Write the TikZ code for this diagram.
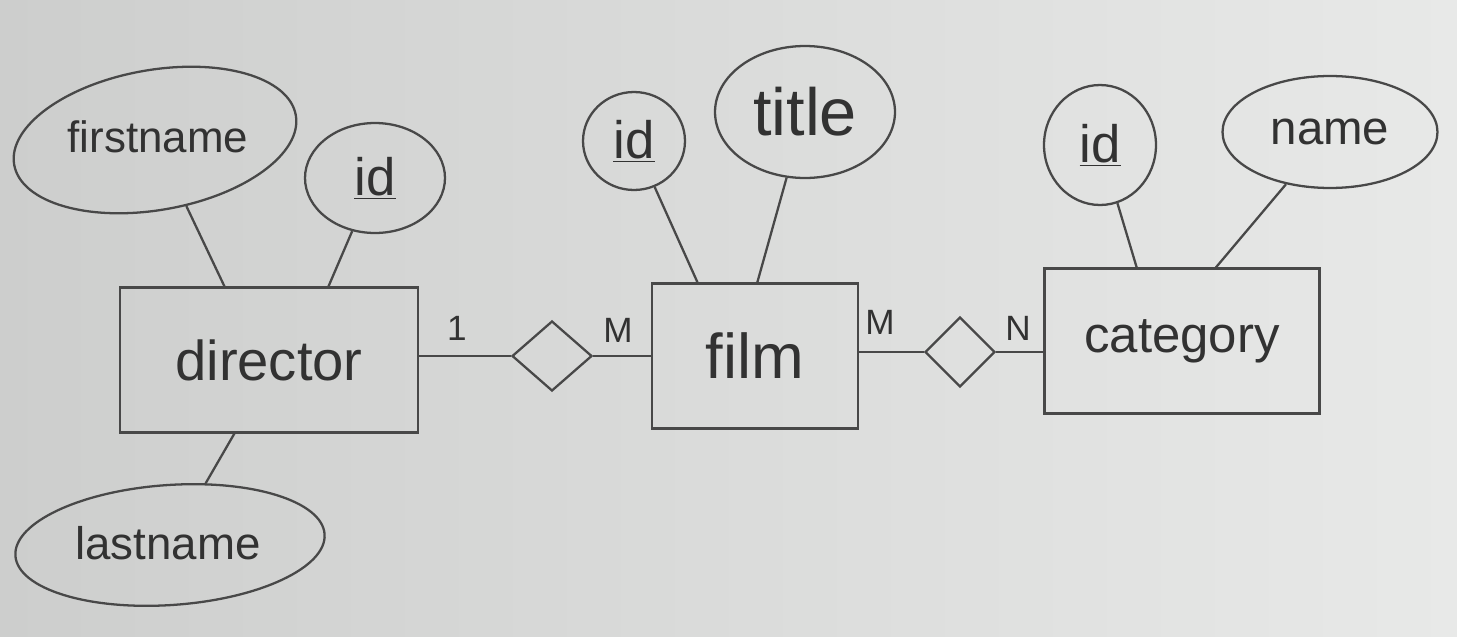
\documentclass[tikz,border=0pt]{standalone}
\usepackage{fontspec}
\setmainfont{Liberation Sans}
\usetikzlibrary{shapes.geometric}
\definecolor{pencil}{RGB}{72,72,72}
\definecolor{ink}{RGB}{50,50,50}
\definecolor{paperL}{RGB}{205,206,205}
\definecolor{paperR}{RGB}{232,233,232}
\newcommand{\fs}[1]{\fontsize{#1}{#1}\selectfont}
\tikzset{
  entity/.style={draw=pencil, line width=1.3pt, rectangle, minimum height=2.9cm, inner sep=0pt, text=ink},
  attr/.style={draw=pencil, line width=1.3pt, ellipse, inner sep=0pt, text=ink},
  lbl/.style={text=ink, inner sep=0pt},
  rel/.style={draw=pencil, line width=1.3pt, diamond, minimum width=1.6cm, minimum height=1.4cm, inner sep=0pt},
  link/.style={draw=pencil, line width=1.3pt},
  card/.style={text=ink, inner sep=0pt, font=\fs{20}}
}
\begin{document}
\begin{tikzpicture}[x=0.02cm,y=-0.02cm]
\shade[left color=paperL, right color=paperR] (0,0) rectangle (1457,636);
\useasboundingbox (0,0) rectangle (1457,636);

% entities
\node[entity, minimum width=5.96cm, font=\fs{32}] (director) at (269,360) {director};
\node[entity, minimum width=4.12cm, font=\fs{36}] (film) at (755,356) {film};
\node[entity, minimum width=5.5cm, font=\fs{29}] (category) at (1182,341) {category};

% relationships
\node[rel] (r1) at (552,356) {};
\node[rel, minimum width=1.4cm] (r2) at (960,352) {};

% attributes
\node[attr, minimum width=5.72cm, minimum height=2.8cm, rotate=10] (firstname) at (155,140) {};
\node[lbl, font=\fs{25}] (firstnameT) at (158,137) {firstname};
\node[attr, minimum width=2.8cm, minimum height=2.2cm, font=\fs{30}] (did) at (375,178) {\underline{id}};
\node[attr, minimum width=6.2cm, minimum height=2.4cm, rotate=4] (lastname) at (170,545) {};
\node[lbl, font=\fs{26}] (lastnameT) at (168,543) {lastname};
\node[attr, minimum width=2.04cm, minimum height=1.96cm, font=\fs{30}] (fid) at (634,141) {\underline{id}};
\node[attr, minimum width=3.6cm, minimum height=2.64cm, font=\fs{38}] (title) at (805,112) {title};
\node[attr, minimum width=2.24cm, minimum height=2.4cm, font=\fs{30}] (cid) at (1100,145) {\underline{id}};
\node[attr, minimum width=4.3cm, minimum height=2.24cm, font=\fs{27}] (name) at (1330,132) {name};

% attachment points on entity borders
\coordinate (dA) at (225,287.5);
\coordinate (dB) at (328,287.5);
\coordinate (dC) at (235,432.5);
\coordinate (fA) at (698,283.5);
\coordinate (fB) at (757,283.5);
\coordinate (cA) at (1137,268.5);
\coordinate (cB) at (1215,268.5);

\draw[link] (firstname) -- (dA);
\draw[link] (did) -- (dB);
\draw[link] (lastname) -- (dC);
\draw[link] (fid) -- (fA);
\draw[link] (title) -- (fB);
\draw[link] (cid) -- (cA);
\draw[link] (name) -- (cB);

% relationship links
\draw[link] (r1.west -| director.east) -- (r1.west);
\draw[link] (r1.east) -- (r1.east -| film.west);
\draw[link] (r2.west -| film.east) -- (r2.west);
\draw[link] (r2.east) -- (r2.east -| category.west);

% cardinalities
\node[card] (c1) at (457,328) {1};
\node[card] (c2) at (618,330) {M};
\node[card] (c3) at (880,322) {M};
\node[card] (c4) at (1018,328) {N};
\end{tikzpicture}
\end{document}
